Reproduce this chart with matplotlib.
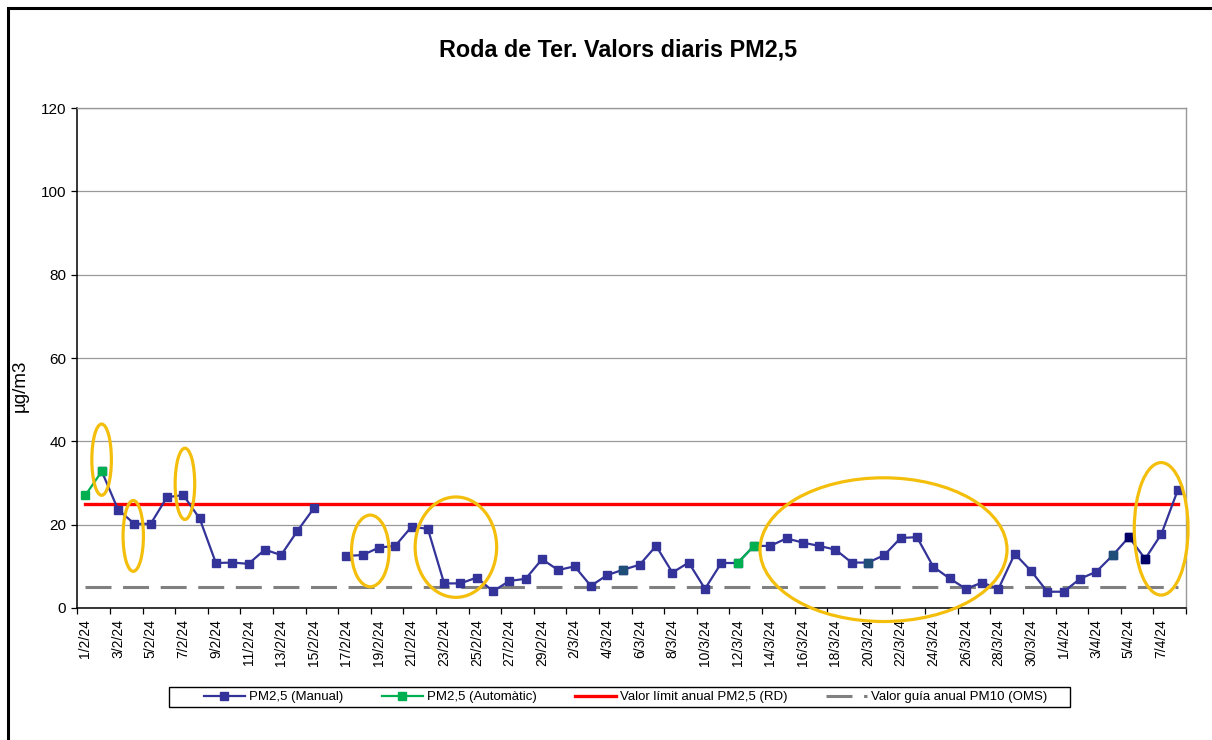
import numpy as np
import pandas as pd
import matplotlib
matplotlib.use("Agg")
import matplotlib.pyplot as plt
from matplotlib.patches import Ellipse, Rectangle

plt.rcParams['font.family'] = ['Liberation Sans', 'DejaVu Sans']

# daily categories 1/2/24 .. 8/4/24
days = pd.date_range("2024-02-01", "2024-04-08", freq="D")
day_labels = [f"{d.day}/{d.month}/24" for d in days]

nan = np.nan
pm25_manual = [
    nan, 32.8, 23.6, 20.2, 20.2, 26.6, 27.1, 21.5, 10.8, 10.9,
    10.6, 14.0, 12.7, 18.5, 23.9, nan, 12.5, 12.7, 14.5, 14.9,
    19.5, 19.0, 5.9, 5.9, 7.3, 4.0, 6.5, 7.0, 11.7, 9.1,
    10.0, 5.3, 7.9, 9.2, 10.4, 14.9, 8.5, 10.9, 4.6, 10.8,
    10.8, 14.9, 14.9, 16.7, 15.7, 14.9, 14.0, 10.9, 10.9, 12.7,
    16.8, 17.0, 9.9, 7.1, 4.6, 6.1, 4.6, 13.0, 8.9, 3.9,
    3.9, 7.0, 8.7, 12.6, 17.0, 11.8, 17.8, 28.3,
]
# automatic monitor only filled a few days
pm25_auto = [nan] * len(days)
pm25_auto[0] = 27.1
pm25_auto[1] = 32.8
pm25_auto[40] = 10.8
pm25_auto[41] = 14.9

limit_pm25_rd = 25
guide_pm10_oms = 5

# points with a different marker colour in the original sheet
teal_points = [33, 48, 63]
navy_points = [64, 65]

# yellow highlight ellipses: (x center idx, y center, width in days, height)
highlights = [
    (0.99, 35.6, 1.2, 17.1),
    (2.93, 17.3, 1.25, 17.0),
    (6.10, 29.8, 1.2, 17.1),
    (17.47, 13.7, 2.3, 17.2),
    (22.72, 14.6, 5.0, 24.1),
    (48.95, 14.0, 15.15, 34.5),
    (65.98, 19.0, 3.3, 31.8),
]

x = np.arange(len(days))

fig = plt.figure(figsize=(12.12, 7.4), dpi=100)
ax = fig.add_axes([0.0638, 0.1784, 0.9147, 0.6756])

ax.plot([x[0], x[-1]], [limit_pm25_rd] * 2, color='#FF0000', lw=2.4,
        label='Valor límit anual PM2,5 (RD)', zorder=2)
ax.plot([x[0], x[-1]], [guide_pm10_oms] * 2, color='#808080', lw=2.2,
        dashes=(8.5, 3.8), label='Valor guía anual PM10 (OMS)', zorder=2)

ax.plot(x, pm25_manual, color='#333399', lw=1.6, marker='s', ms=5.4,
        label='PM2,5 (Manual)', zorder=3)
ax.plot(x, pm25_auto, color='#00B050', lw=1.6, marker='s', ms=5.4,
        label='PM2,5 (Automàtic)', zorder=4)

man = np.array(pm25_manual)
ax.plot(x[teal_points], man[teal_points], ls='none', marker='s', ms=5.4,
        color='#1F4E79', zorder=5)
ax.plot(x[navy_points], man[navy_points], ls='none', marker='s', ms=5.4,
        color='#000066', zorder=5)

for cx, cy, w, h in highlights:
    ax.add_patch(Ellipse((cx, cy), w, h, fill=False, edgecolor='#F4BF0C',
                         lw=2.3, zorder=6, clip_on=False))

ax.set_xlim(-0.5, len(days) - 0.5)
ax.set_ylim(0, 120)
ax.set_yticks(range(0, 121, 20))
ax.grid(axis='y', color='#999999', lw=0.9)
ax.set_axisbelow(True)

ax.set_xticks(x[::2])
ax.set_xticklabels(day_labels[::2], rotation=90, fontsize=10)
ax.set_xticks(np.arange(-0.5, len(days), 2), minor=True)
ax.tick_params(axis='x', which='major', length=0, pad=8)
ax.tick_params(axis='x', which='minor', length=4, width=0.9, direction='out')
ax.tick_params(axis='y', length=4, width=0.9, labelsize=11, pad=4)

for side in ['left', 'bottom']:
    ax.spines[side].set_color('black')
    ax.spines[side].set_linewidth(1.1)
for side in ['top', 'right']:
    ax.spines[side].set_color('#999999')
    ax.spines[side].set_linewidth(1.0)

ax.set_ylabel('µg/m3', fontsize=13.5)
ax.yaxis.set_label_coords(-0.044, 0.444)

fig.text(0.51, 0.933, 'Roda de Ter. Valors diaris PM2,5', ha='center',
         va='center', fontsize=16.8, fontweight='bold')

handles, labels = ax.get_legend_handles_labels()
order = [2, 3, 0, 1]
leg = fig.legend([handles[i] for i in order], [labels[i] for i in order],
                 loc='center', bbox_to_anchor=(0.5162, 0.058), ncol=4,
                 fontsize=9.5, frameon=False, handlelength=3.1,
                 columnspacing=2.93, borderpad=0.25, handletextpad=0.3)

# legend box drawn by hand (wider padding than matplotlib gives)
fig.add_artist(Rectangle((169 / 1212, 1 - 707 / 740), 901 / 1212, 20 / 740,
                         transform=fig.transFigure, fill=False,
                         edgecolor='black', lw=1.0))

# outer chart frame, cut by the right and bottom picture edges
fig.add_artist(Rectangle((8 / 1212, -0.1), 1.2, 1.1 - 8 / 740,
                         transform=fig.transFigure, fill=False,
                         edgecolor='black', lw=2.2))

fig.savefig('out.png', dpi=100)
